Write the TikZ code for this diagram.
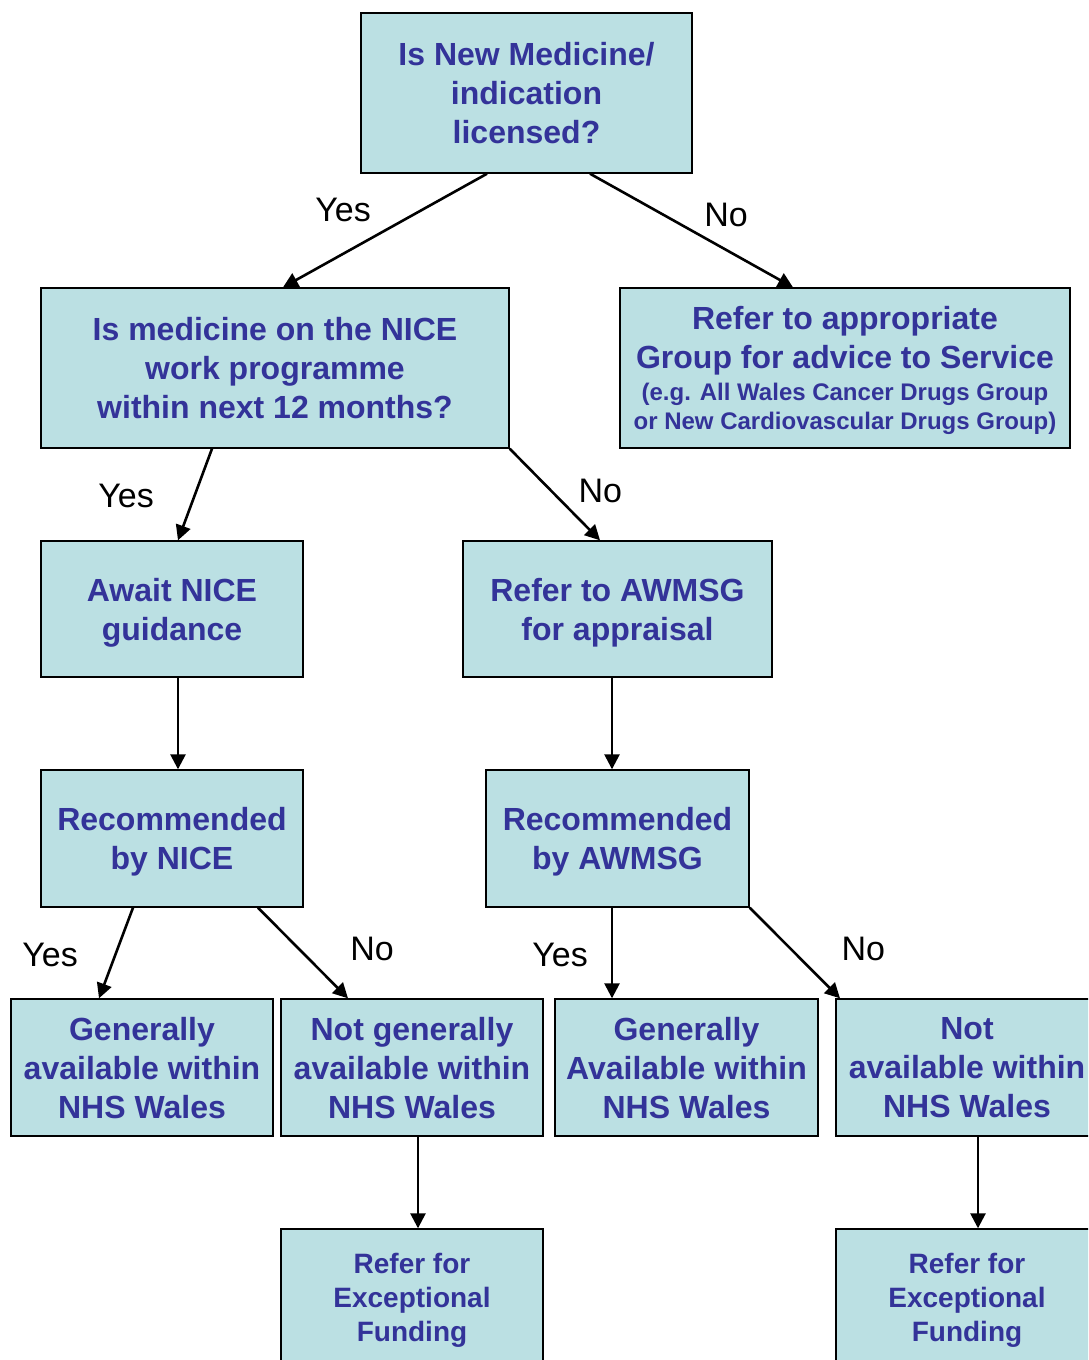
\documentclass[tikz,border=0pt]{standalone}
\usepackage{fontspec}
\setmainfont{Liberation Sans}
\usetikzlibrary{arrows.meta,positioning,calc}
\definecolor{boxfill}{RGB}{187,224,227}
\definecolor{boxtext}{RGB}{51,51,153}
\tikzset{
	>={Triangle[length=15pt,width=15pt]}, x=1pt, y=1pt,
	every edge/.append style={->},
	box/.style={draw, line width=1.4pt, fill=boxfill, text=boxtext, align=center, inner sep=0pt, text depth=-4pt,
		font=\bfseries\fontsize{32}{39}\selectfont, minimum width=262pt, minimum height=137pt},
	small/.style={font=\bfseries\fontsize{28}{34}\selectfont},
	ans/.style={font=\fontsize{34}{40}\selectfont, text=black},
	flow/.style={line width=2.6pt},
}
\begin{document}
\begin{tikzpicture}
	\useasboundingbox (0,0) rectangle (1088,-1360);
	\clip (0,0) rectangle (1088,-1360);

	% questions
	\node[box, minimum width=331pt, minimum height=160pt] (top) at (526.5,-93) {Is New Medicine/\\indication\\licensed?};
	\node[box, minimum width=468pt, minimum height=160pt] (nice) at (275,-368) {Is medicine on the NICE\\work programme\\within next 12 months?};
	\node[box, minimum width=450pt, minimum height=160pt, text depth=-8pt] (group) at (845,-368) {Refer to appropriate\\Group for advice to Service\\[-7pt]
		\fontsize{24}{29}\selectfont (e.g. All Wales Cancer Drugs Group\\[-10pt]\fontsize{24}{29}\selectfont or New Cardiovascular Drugs Group)};

	% second row
	\node[box, minimum height=136pt] (await) at (172,-609) {Await NICE\\guidance};
	\node[box, minimum width=309pt, minimum height=136pt] (awmsg) at (617.5,-609) {Refer to AWMSG\\for appraisal};
	\node[box] (recnice) at (172,-838.5) {Recommended\\by NICE};
	\node[box, minimum width=263pt] (recawmsg) at (617.5,-838.5) {Recommended\\by AWMSG};

	% outcomes
	\node[box] (gen) at (142,-1067.5) {Generally\\available within\\NHS Wales};
	\node[box] (notgen) at (412,-1067.5) {Not generally\\available within\\NHS Wales};
	\node[box, minimum width=263pt] (genavail) at (686.5,-1067.5) {Generally\\Available within\\NHS Wales};
	\node[box] (notavail) at (967,-1067.5) {Not\\available within\\NHS Wales};
	\node[box, small] (ef1) at (412,-1297.5) {Refer for\\Exceptional\\Funding};
	\node[box, small] (ef2) at (967,-1297.5) {Refer for\\Exceptional\\Funding};

	\draw[flow]
		([xshift=-39.5]top.south) edge node[ans, xshift=-42, yshift=20.5]{Yes} ([xshift=8]nice.north)
		([xshift=63.5]top.south) edge node[ans, xshift=34.5, yshift=15.5]{No} ([xshift=-52]group.north)
		([xshift=-63]nice.south) edge node[ans, xshift=-69, yshift=-1.5]{Yes} ([xshift=6]await.north)
		(nice.south east) edge node[ans, xshift=45.5, yshift=3.5]{No} ([xshift=-17.5]awmsg.north)
		([xshift=6]await.south) edge ([xshift=6]recnice.north)
		([xshift=-5.5]awmsg.south) edge ([xshift=-5.5]recawmsg.north)
		([xshift=-39]recnice.south) edge node[ans, xshift=-66, yshift=-2]{Yes} ([xshift=-43]gen.north)
		([xshift=86]recnice.south) edge node[ans, xshift=69, yshift=4]{No} ([xshift=-64]notgen.north)
		([xshift=-5.5]recawmsg.south) edge node[ans, xshift=-52, yshift=-2]{Yes} ([xshift=-74.5]genavail.north)
		(recawmsg.south east) edge node[ans, xshift=68.5, yshift=4]{No} ([xshift=-127]notavail.north)
		([xshift=6]notgen.south) edge ([xshift=6]ef1.north)
		([xshift=11]notavail.south) edge ([xshift=11]ef2.north);
\end{tikzpicture}
\end{document}
